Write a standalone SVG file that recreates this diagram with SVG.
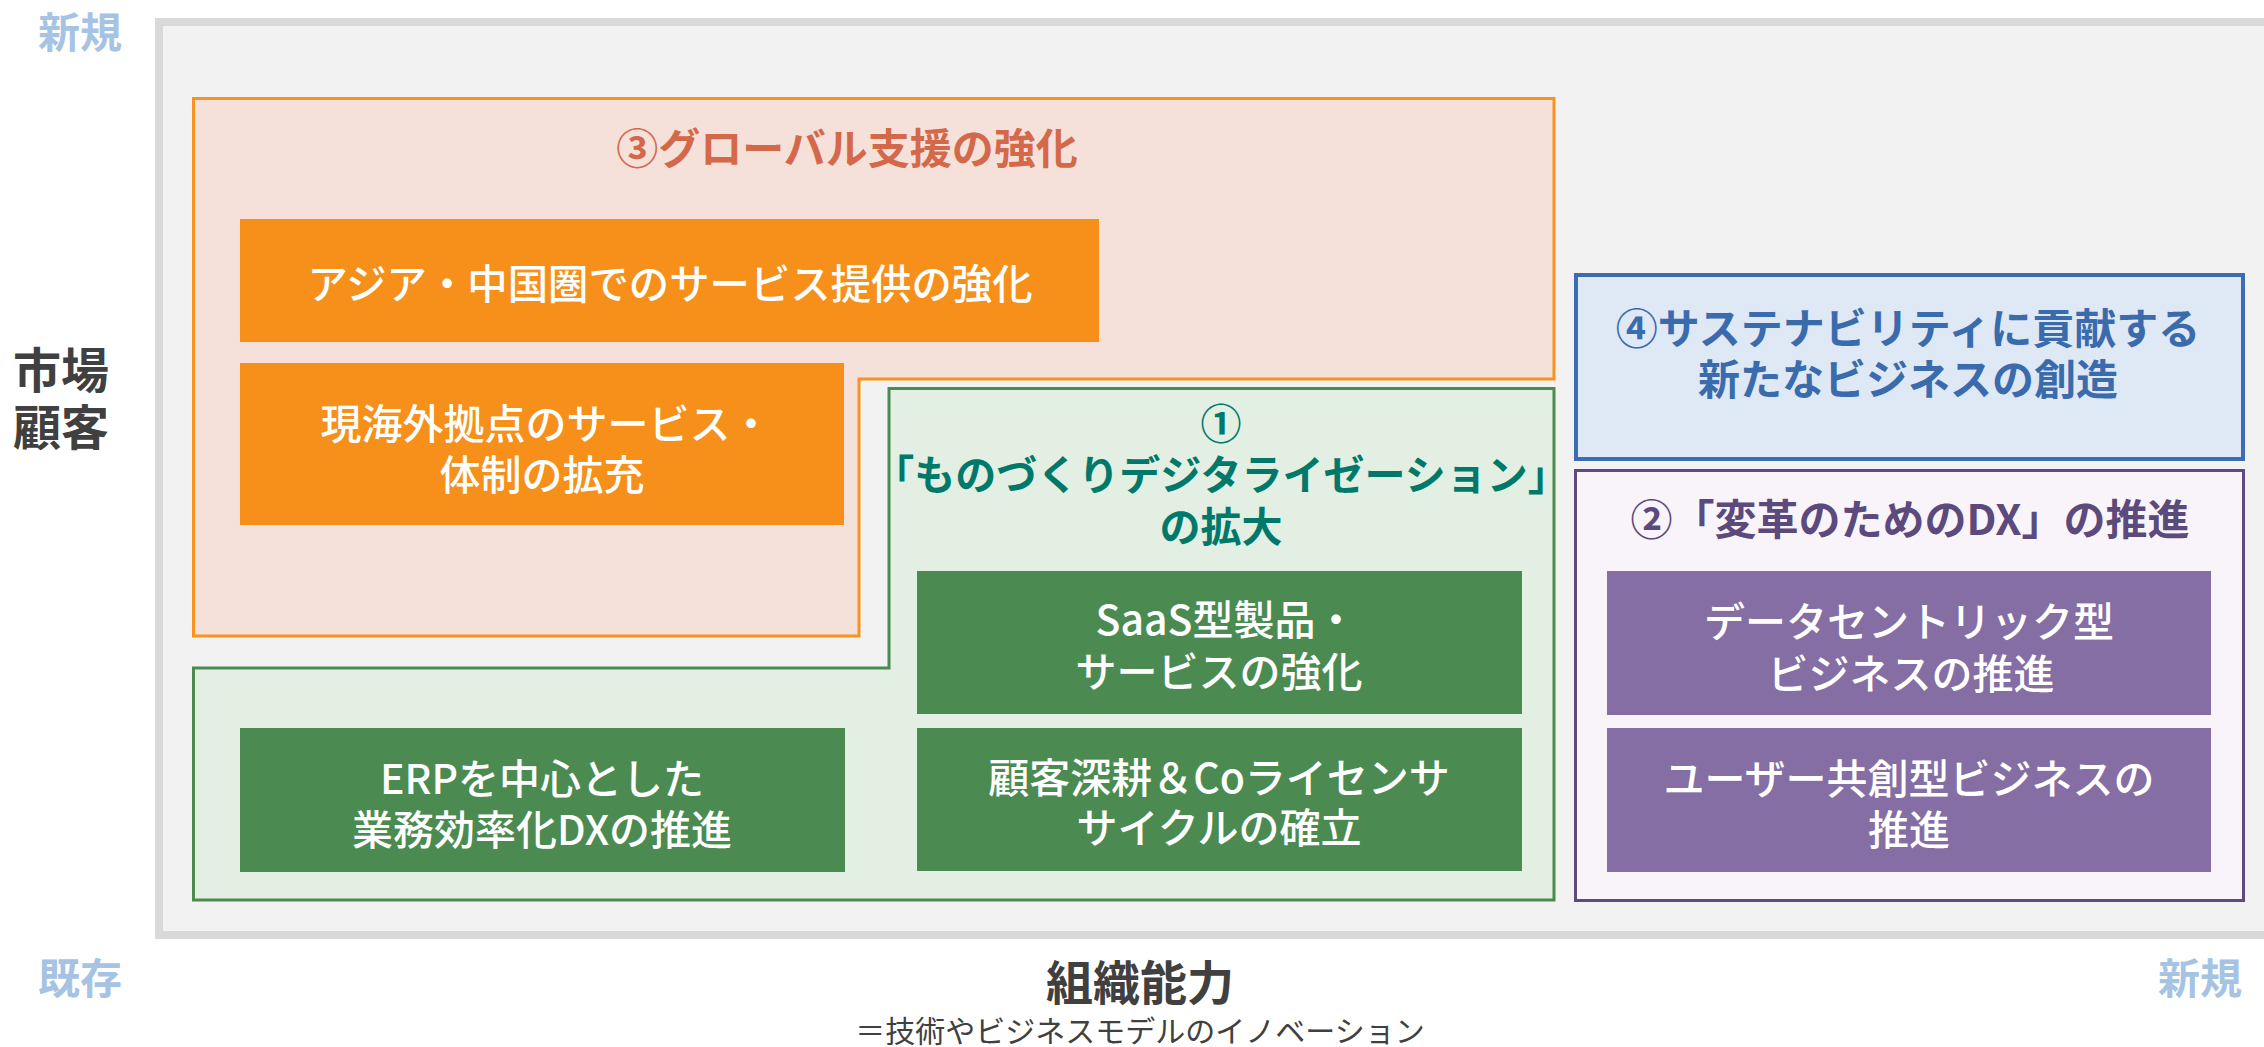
<svg xmlns="http://www.w3.org/2000/svg" width="2264" height="1047" viewBox="0 0 2264 1047">
<style>
text{font-family:"Noto Sans CJK JP","Noto Sans",sans-serif;text-anchor:middle}
.ax{fill:#A7C3E4;font-size:42px;font-weight:700}
.box{fill:#fff;font-size:41px;font-weight:500}
.t3{fill:#D4694A;font-size:42px;font-weight:700}
.t1{fill:#00796A;font-size:41px;font-weight:700}
.t4{fill:#3A6BAD;font-size:42px;font-weight:700}
.t2{fill:#5C4A7C;font-size:42px;font-weight:700}
.or{fill:#F6901A}
.gr{fill:#4B8B51}
.pu{fill:#856EA3}
</style>
<rect x="159" y="22" width="2200" height="913" fill="#F2F2F2" stroke="#D9D9D9" stroke-width="8"/>
<text class="ax" x="80" y="48">新規</text>
<text class="ax" x="80" y="994">既存</text>
<text class="ax" x="2200" y="994">新規</text>
<text x="61" y="388" style="fill:#404040;font-size:48px;font-weight:700">市場</text>
<text x="61" y="445" style="fill:#404040;font-size:48px;font-weight:700">顧客</text>
<text x="1140" y="1000" style="fill:#404040;font-size:47px;font-weight:700">組織能力</text>
<text x="1140" y="1042" style="fill:#404040;font-size:30px">＝技術やビジネスモデルのイノベーション</text>
<g id="area3">
<path d="M193.5,98.5 H1554 V379 H859 V636 H193.5 Z" fill="#F5E1DA" stroke="#F7931E" stroke-width="3"/>
<text class="t3" x="847" y="164">③グローバル支援の強化</text>
</g>
<g id="area1">
<path d="M889,388.5 H1554 V900 H193.5 V668 H889 Z" fill="#E2EFE2" stroke="#4B8B51" stroke-width="3"/>
<text class="t1" x="1221" y="439">①</text>
<text class="t1" x="1221" y="490">「ものづくりデジタライゼーション」</text>
<text class="t1" x="1221" y="542">の拡大</text>
</g>
<g id="area4">
<rect x="1576" y="275" width="667" height="184" fill="#DFE8F5" stroke="#3D6DB0" stroke-width="4"/>
<text class="t4" x="1908" y="344">④サステナビリティに貢献する</text>
<text class="t4" x="1908" y="395">新たなビジネスの創造</text>
</g>
<g id="area2">
<rect x="1575.5" y="470.5" width="668" height="430" fill="#F8F4FA" stroke="#5E4B7E" stroke-width="3"/>
<text class="t2" x="1910" y="535">②「変革のためのDX」の推進</text>
</g>
<g id="asia">
<rect class="or" x="240" y="219" width="859" height="123"/>
<text class="box" x="670" y="299" textLength="725" lengthAdjust="spacingAndGlyphs">アジア・中国圏でのサービス提供の強化</text>
</g>
<g id="overseas">
<rect class="or" x="240" y="363" width="604" height="162"/>
<text class="box" x="546" y="439">現海外拠点のサービス・</text>
<text class="box" x="542" y="490">体制の拡充</text>
</g>
<g id="saas">
<rect class="gr" x="917" y="571" width="605" height="143"/>
<text class="box" x="1226" y="635">SaaS型製品・</text>
<text class="box" x="1219" y="687">サービスの強化</text>
</g>
<g id="licensor">
<rect class="gr" x="917" y="728" width="605" height="143"/>
<text class="box" x="1219" y="793">顧客深耕＆Coライセンサ</text>
<text class="box" x="1219" y="843">サイクルの確立</text>
</g>
<g id="erp">
<rect class="gr" x="240" y="728" width="605" height="144"/>
<text class="box" x="542" y="794">ERPを中心とした</text>
<text class="box" x="542" y="845">業務効率化DXの推進</text>
</g>
<g id="datacentric">
<rect class="pu" x="1607" y="571" width="604" height="144"/>
<text class="box" x="1909" y="637">データセントリック型</text>
<text class="box" x="1911" y="689">ビジネスの推進</text>
</g>
<g id="cocreation">
<rect class="pu" x="1607" y="728" width="604" height="144"/>
<text class="box" x="1909" y="794">ユーザー共創型ビジネスの</text>
<text class="box" x="1909" y="845">推進</text>
</g>
<g id="connectors"></g>
</svg>
